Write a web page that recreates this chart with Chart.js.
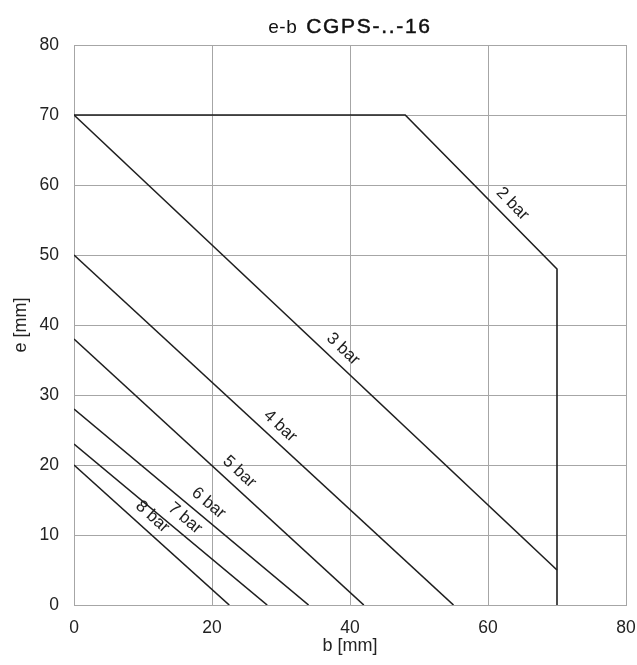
<!DOCTYPE html>
<html>
<head>
<meta charset="utf-8">
<script src="https://cdn.jsdelivr.net/npm/chart.js@4/dist/chart.umd.min.js"></script>
<style>
  html, body { margin: 0; padding: 0; background: #fff; }
  #wrap { width: 637px; height: 665px; }
</style>
</head>
<body>
<div id="wrap"><canvas id="c" width="637" height="665"></canvas></div>
<script>
// e-b limits per pressure
const seriesNames = ['2 bar', '3 bar', '4 bar', '5 bar', '6 bar', '7 bar', '8 bar'];
const bar2X = [0, 48, 70, 70];
const bar2Y = [70, 70, 48, 0];
const bar3X = [0, 70];
const bar3Y = [70, 5];
const bar4X = [0, 55];
const bar4Y = [50, 0];
const bar5X = [0, 42];
const bar5Y = [38, 0];
const bar6X = [0, 34];
const bar6Y = [28, 0];
const bar7X = [0, 28];
const bar7Y = [23, 0];
const bar8X = [0, 22.5];
const bar8Y = [20, 0];
// b value along each line where its label sits
const labelAtX = [62.1, 37.6, 28.5, 22.6, 18.2, 14.8, 10];
const xTicks = [0, 20, 40, 60, 80];
const yTicks = [0, 10, 20, 30, 40, 50, 60, 70, 80];

const allX = [bar2X, bar3X, bar4X, bar5X, bar6X, bar7X, bar8X];
const allY = [bar2Y, bar3Y, bar4Y, bar5Y, bar6Y, bar7Y, bar8Y];

const FONT = "'Liberation Sans', Arial, sans-serif";
const LINE = '#1e1e1e';
const GRID = '#a6a6a6';

const datasets = seriesNames.map((name, i) => ({
    label: name,
    data: allX[i].map((x, j) => ({ x: x, y: allY[i][j] })),
    showLine: true,
    borderColor: LINE,
    borderWidth: 1.6,
    pointRadius: 0,
    fill: false
}));

// rotated labels sitting above each line
const lineLabels = {
    id: 'lineLabels',
    afterDatasetsDraw(chart) {
        const ctx = chart.ctx;
        const xs = chart.scales.x, ys = chart.scales.y;
        ctx.save();
        ctx.font = '17px ' + FONT;
        ctx.fillStyle = '#1e1e1e';
        ctx.textAlign = 'center';
        ctx.textBaseline = 'middle';
        seriesNames.forEach((name, i) => {
            const px = allX[i], py = allY[i], lx = labelAtX[i];
            for (let j = 0; j < px.length - 1; j++) {
                if (lx >= px[j] && lx <= px[j + 1] && px[j + 1] > px[j]) {
                    const t = (lx - px[j]) / (px[j + 1] - px[j]);
                    const ly = py[j] + t * (py[j + 1] - py[j]);
                    const x0 = xs.getPixelForValue(px[j]), y0 = ys.getPixelForValue(py[j]);
                    const x1 = xs.getPixelForValue(px[j + 1]), y1 = ys.getPixelForValue(py[j + 1]);
                    const ang = Math.atan2(y1 - y0, x1 - x0);
                    const ax = xs.getPixelForValue(lx), ay = ys.getPixelForValue(ly);
                    const off = 14;
                    ctx.save();
                    ctx.translate(ax + off * Math.sin(ang), ay - off * Math.cos(ang));
                    ctx.rotate(ang);
                    ctx.fillText(name, 0, 0);
                    ctx.restore();
                    break;
                }
            }
        });
        ctx.restore();
    }
};

// two-part title: "e-b" plain, part name larger
const mixedTitle = {
    id: 'mixedTitle',
    afterDraw(chart) {
        const ctx = chart.ctx;
        const a = chart.chartArea;
        const p1 = 'e-b', p2 = 'CGPS-..-16';
        ctx.save();
        ctx.fillStyle = '#111';
        ctx.strokeStyle = '#111';
        ctx.textBaseline = 'alphabetic';
        ctx.font = '19px ' + FONT;
        ctx.letterSpacing = '0.5px';
        const w1 = ctx.measureText(p1).width;
        const gap = 9;
        ctx.font = '21px ' + FONT;
        ctx.letterSpacing = '1.7px';
        const w2 = ctx.measureText(p2).width;
        const start = (a.left + a.right) / 2 - (w1 + gap + w2) / 2;
        ctx.font = '19px ' + FONT;
        ctx.letterSpacing = '0.5px';
        ctx.fillText(p1, start, 33);
        ctx.font = '21px ' + FONT;
        ctx.letterSpacing = '1.7px';
        ctx.lineWidth = 0.5;
        ctx.fillText(p2, start + w1 + gap, 33);
        ctx.strokeText(p2, start + w1 + gap, 33);
        ctx.restore();
    }
};

new Chart(document.getElementById('c'), {
    type: 'scatter',
    data: { datasets: datasets },
    options: {
        responsive: false,
        animation: false,
        layout: { padding: { top: 45, right: 11, left: 0, bottom: 0 } },
        plugins: {
            legend: { display: false },
            tooltip: { enabled: false }
        },
        scales: {
            x: {
                type: 'linear',
                min: 0,
                max: 80,
                afterBuildTicks: s => { s.ticks = xTicks.map(v => ({ value: v })); },
                afterFit: s => { s.height = 60; s.paddingLeft = 0; s.paddingRight = 0; },
                grid: { color: GRID, lineWidth: 1, drawTicks: false },
                border: { color: GRID, width: 1 },
                ticks: { padding: 13, color: '#222', font: { family: FONT, size: 17.5 } },
                title: {
                    display: true,
                    text: 'b [mm]',
                    color: '#222',
                    font: { family: FONT, size: 18 },
                    padding: { top: 0, bottom: 8 }
                }
            },
            y: {
                type: 'linear',
                min: 0,
                max: 80,
                afterBuildTicks: s => { s.ticks = yTicks.map(v => ({ value: v })); },
                afterFit: s => { s.width = 74; s.paddingTop = 0; s.paddingBottom = 0; },
                grid: { color: GRID, lineWidth: 1, drawTicks: false },
                border: { color: GRID, width: 1 },
                ticks: { padding: 15, color: '#222', font: { family: FONT, size: 17.5 } },
                title: {
                    display: true,
                    text: 'e [mm]',
                    color: '#222',
                    font: { family: FONT, size: 18 },
                    padding: { top: 10, bottom: 10 }
                }
            }
        }
    },
    plugins: [lineLabels, mixedTitle]
});
</script>
</body>
</html>
